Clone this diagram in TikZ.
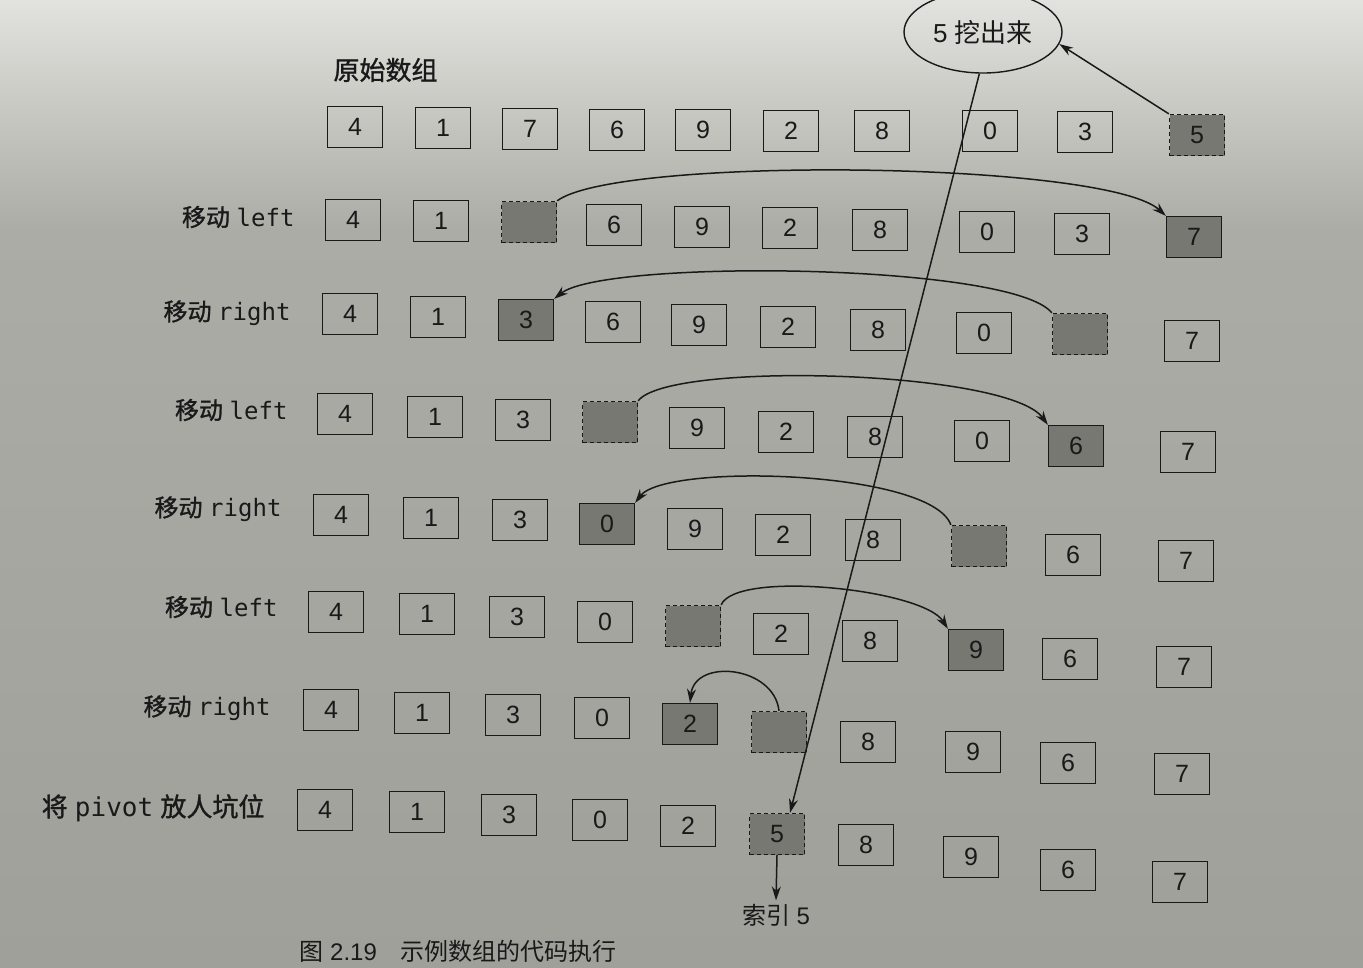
\documentclass[tikz,border=0pt]{standalone}
\usepackage{fontspec}
\setmainfont{Liberation Sans}
\newfontfamily\cjk{Noto Sans CJK SC}
\newfontfamily\cjkb{Noto Sans CJK SC}[FakeBold=1.2]
\newfontfamily\mono{DejaVu Sans Mono}
\usetikzlibrary{arrows.meta,shapes.geometric}
\definecolor{bgtop}{RGB}{226,226,222}
\definecolor{bgmid}{RGB}{172,172,166}
\definecolor{bgbot}{RGB}{160,160,154}
\definecolor{shadecol}{RGB}{120,120,114}
\definecolor{ink}{RGB}{25,25,25}
\tikzset{
  cell/.style={draw=ink, line width=1.3pt, minimum width=55pt, minimum height=41pt,
    inner sep=0pt, text=ink, font=\fontsize{25}{25}\selectfont},
  hotcell/.style={cell, fill=shadecol},
  holecell/.style={cell, fill=shadecol, dash pattern=on 4pt off 3pt},
  lab/.style={anchor=east, text=ink, font=\fontsize{24}{26}\selectfont},
  arr/.style={-{Stealth[length=14pt,width=9pt]}, line width=1.5pt, draw=ink},
}
\begin{document}
\begin{tikzpicture}[x=1pt,y=-1pt]
\clip (0,0) rectangle (1363,967);
\shade[top color=bgtop, bottom color=bgmid] (0,0) rectangle (1363,230);
\shade[top color=bgmid, bottom color=bgbot] (0,230) rectangle (1363,967);

% plain cells
\foreach \n/\x/\y/\v in {
 r0c0/355/127/4, r0c1/443/128/1, r0c2/530/129/7, r0c3/617/130/6, r0c4/703/130/9,
 r0c5/791/131/2, r0c6/882/131/8, r0c7/990/131/0, r0c8/1085/132/3,
 r1c0/353/220/4, r1c1/441/221/1, r1c3/614/225/6, r1c4/702/227/9, r1c5/790/228/2,
 r1c6/880/230/8, r1c7/987/232/0, r1c8/1082/234/3,
 r2c0/350/314/4, r2c1/438/317/1, r2c3/613/322/6, r2c4/699/325/9, r2c5/788/327/2,
 r2c6/878/330/8, r2c7/984/333/0, r2c9/1192/341/7,
 r3c0/345/414/4, r3c1/435/417/1, r3c2/523/420/3, r3c4/697/428/9, r3c5/786/432/2,
 r3c6/875/437/8, r3c7/982/441/0, r3c9/1188/452/7,
 r4c0/341/515/4, r4c1/431/518/1, r4c2/520/520/3, r4c4/695/529/9, r4c5/783/535/2,
 r4c6/873/540/8, r4c8/1073/555/6, r4c9/1186/561/7,
 r5c0/336/612/4, r5c1/427/614/1, r5c2/517/617/3, r5c3/605/622/0, r5c5/781/634/2,
 r5c6/870/641/8, r5c8/1070/659/6, r5c9/1184/667/7,
 r6c0/331/710/4, r6c1/422/713/1, r6c2/513/715/3, r6c3/602/718/0,
 r6c6/868/742/8, r6c7/973/752/9, r6c8/1068/763/6, r6c9/1182/774/7,
 r7c0/325/810/4, r7c1/417/812/1, r7c2/509/815/3, r7c3/600/820/0, r7c4/688/826/2,
 r7c6/866/845/8, r7c7/971/857/9, r7c8/1068/870/6, r7c9/1180/882/7}
 \node[cell] (\n) at (\x,\y) {\v};

% shaded cells holding a moved value
\foreach \n/\x/\y/\v in {r1c9/1194/237/7, r2c2/526/320/3, r3c8/1076/446/6,
 r4c3/607/524/0, r5c7/976/650/9, r6c4/690/724/2}
 \node[hotcell] (\n) at (\x,\y) {\v};

% holes (dashed)
\foreach \n/\x/\y/\v in {r0c9/1197/135/5, r1c2/529/222/{}, r2c8/1080/334/{},
 r3c3/610/422/{}, r4c7/979/546/{}, r5c4/693/626/{}, r6c5/779/732/{}, r7c5/777/834/5}
 \node[holecell] (\n) at (\x,\y) {\v};

% row labels
\node[anchor=west, text=ink, font=\fontsize{26}{28}\selectfont\cjkb] (orig) at (330,70) {原始数组};
\node[lab] (l1) at (298,217) {{\cjkb 移动} {\mono left}};
\node[lab] (l2) at (294,313) {{\cjkb 移动} {\mono right}};
\node[lab] (l3) at (291,410) {{\cjkb 移动} {\mono left}};
\node[lab] (l4) at (285,509) {{\cjkb 移动} {\mono right}};
\node[lab] (l5) at (281,607) {{\cjkb 移动} {\mono left}};
\node[lab] (l6) at (274,708) {{\cjkb 移动} {\mono right}};
\node[lab, font=\fontsize{26}{28}\selectfont] (l7) at (268,808) {{\cjkb 将} {\mono pivot} {\cjkb 放人坑位}};

% pivot ellipse
\node[ellipse, draw=ink, line width=1.4pt, minimum width=158pt, minimum height=82pt,
      inner sep=0pt, text=ink, font=\fontsize{26}{28}\selectfont] (dig) at (983,32)
      {5 {\cjk 挖出来}};
\draw[arr] (r0c9.north west) -- (dig.-9);
\draw[arr] (dig.265) -- ([xshift=13pt]r7c5.north);

% moves
\draw[arr] (r1c2.north east) .. controls +(60,-45) and +(-60,-55) .. (r1c9.north west);
\draw[arr] (r2c8.north west) .. controls +(-40,-50) and +(50,-40) .. (r2c2.north east);
\draw[arr] (r3c3.north east) .. controls +(30,-40) and +(-40,-55) .. (r3c8.north west);
\draw[arr] (r4c7.north west) .. controls +(-20,-55) and +(30,-40) .. (r4c3.north east);
\draw[arr] (r5c4.north east) .. controls +(15,-35) and +(-25,-40) .. (r5c7.north west);
\draw[arr] (r6c5.north) .. controls +(-5,-45) and +(5,-45) .. (r6c4.north);

% index
\node[text=ink, font=\fontsize{24}{26}\selectfont] (idx) at (776,915) {{\cjk 索引} 5};
\draw[arr] (r7c5.south) -- (idx.north);

% caption
\node[anchor=west, text=ink, font=\fontsize{24}{26}\selectfont] (cap) at (296,951)
  {{\cjk 图} 2.19\quad{\cjk 示例数组的代码执行}};
\end{tikzpicture}
\end{document}
